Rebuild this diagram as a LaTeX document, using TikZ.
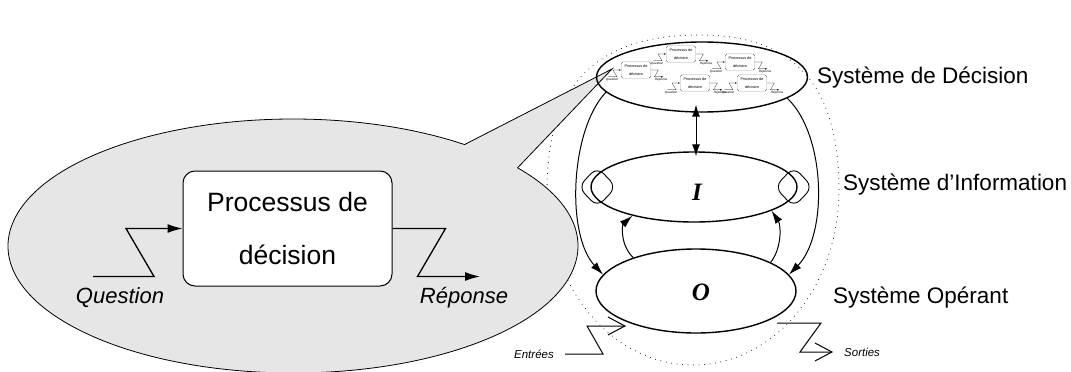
\documentclass[tikz,border=0pt]{standalone}
\usepackage{fontspec}
\setmainfont{Liberation Sans}
\newfontfamily\letterfont{Liberation Serif}
\usepackage{xcolor}
\usepackage{tikz}
\usetikzlibrary{arrows.meta, positioning, shapes.geometric}
\definecolor{calloutgray}{RGB}{230,230,230}

\tikzset{
  procbox/.style={draw, fill=white, rounded corners=#1*12pt, minimum width=209pt, minimum height=115pt,
    inner sep=0pt, align=center, font=\fontsize{26.5}{53}\selectfont},
  zig/.style={line width=#1*1.3pt, -{Latex[length=15pt, width=9pt, scale=#1]}},
  qlabel/.style={font=\fontsize{22}{26}\selectfont\itshape, inner sep=0pt},
  sysell/.style={draw, ellipse, line width=1.4pt, inner sep=0pt},
  sysletter/.style={font=\letterfont\bfseries\itshape\fontsize{25}{30}\selectfont, inner sep=0pt},
  syslabel/.style={font=\fontsize{22.5}{27}\selectfont, inner sep=0pt},
  sysarc/.style={line width=1pt, -{Latex[length=13pt, width=8pt]}},
  loopline/.style={line width=0.9pt, rounded corners=9pt},
  iolabel/.style={font=\fontsize{11.5}{14}\selectfont\itshape, inner xsep=11pt, inner ysep=0pt},
  iozig/.style={line width=1pt, -{Straight Barb[length=17pt, width=18pt]}},
  dotline/.style={line width=1pt, line cap=round, dash pattern=on 0pt off 5.5pt},
  callout/.style={draw, fill=calloutgray, line width=0.8pt}
}

% one decision process: box, question in, answer out
\newcommand{\decunit}[4]{%
  \begin{scope}[shift={(#2,#3)}, scale=#4, transform shape, line width=#4*1pt]
    \node[procbox=#4] (#1) at (0,0) {Processus de\\décision};
    \coordinate (#1in) at (-194.5,-48);
    \coordinate (#1out) at (192.5,-48);
    \draw[zig=#4] (#1in) -- ++(61,0) -- ++(-28,48) -- (#1.west);
    \draw[zig=#4] (#1.east) -- ++(53,0) -- ++(-28,-48) -- (#1out);
    \node[qlabel] (#1q) at (-167.5,-69.5) {Question};
    \node[qlabel] (#1r) at (176.5,-69.5) {Réponse};
  \end{scope}}

\begin{document}
\begin{tikzpicture}[x=1pt, y=1pt]
  \useasboundingbox (0,0) rectangle (1071,-372);

  % outer boundary of the organisation
  \draw[dotline] (547,-190) .. controls (547,-81) and (600,-35) .. (700,-35)
    .. controls (790,-35) and (839,-81) .. (839,-190)
    .. controls (839,-287) and (774,-365) .. (693,-365)
    .. controls (612,-365) and (547,-287) .. (547,-190);

  % zoom callout
  \coordinate (cc) at (293,-246);
  \path (cc) ++(53:285 and 127) coordinate (wa);
  \path (cc) ++(38:285 and 127) coordinate (wb);
  \coordinate (wtip) at (612,-69);
  \draw[callout] (wb) arc[start angle=38, end angle=-307, x radius=285, y radius=127]
    -- (wtip) -- cycle;

  \decunit{proc}{287.5}{-228.5}{1}

  % the three systems
  \node[sysell, minimum width=211pt, minimum height=70pt] (dec) at (702,-77) {};
  \node[sysell, minimum width=206pt, minimum height=70pt] (inf) at (694,-187) {};
  \node[sysell, minimum width=200pt, minimum height=84pt] (ope) at (696,-291) {};
  \node[sysletter] (ilbl) at (697,-192) {I};
  \node[sysletter] (olbl) at (701,-292) {O};

  \decunit{pa}{636}{-70}{0.142}
  \decunit{pb}{681}{-54}{0.142}
  \decunit{pc}{740}{-62}{0.142}
  \decunit{pd}{695}{-83}{0.142}
  \decunit{pe}{752}{-83}{0.142}

  \draw[line width=1pt, {Latex[length=12pt, width=8pt]}-{Latex[length=12pt, width=8pt]}]
    ([xshift=-6pt, yshift=8pt]dec.south) -- ([xshift=2pt, yshift=-5pt]inf.north);
  \draw[sysarc] (dec.189) .. controls (570,-130) and (566,-235) .. (ope.170);
  \draw[sysarc] (dec.346) .. controls (826,-135) and (828,-235) .. (ope.10);
  \draw[sysarc] (ope.152) .. controls (620,-245) and (622,-225) .. (inf.205);
  \draw[sysarc] (ope.21) .. controls (782,-248) and (781,-225) .. (inf.343);

  % memory loops of the information system
  \draw[loopline] ([xshift=-2.5pt, yshift=10pt]inf.west) -- ([xshift=7pt, yshift=20pt]inf.west)
    -- ([xshift=26pt]inf.west) -- ([xshift=7pt, yshift=-20pt]inf.west)
    -- ([xshift=-12pt]inf.west) -- ([xshift=-2.5pt, yshift=10pt]inf.west);
  \draw[loopline] ([xshift=-13.5pt, yshift=10pt]inf.east) -- ([xshift=-4pt, yshift=20pt]inf.east)
    -- ([xshift=15pt]inf.east) -- ([xshift=-4pt, yshift=-20pt]inf.east)
    -- ([xshift=-23pt]inf.east) -- ([xshift=-13.5pt, yshift=10pt]inf.east);

  \node[syslabel, anchor=base west] (declbl) at (817,-83) {Système de Décision};
  \node[syslabel, anchor=base west] (inflbl) at (843,-190) {Système d’Information};
  \node[syslabel, anchor=base west] (opelbl) at (833,-303) {Système Opérant};

  % inputs and outputs
  \node[iolabel, anchor=east] (entlbl) at (565,-354) {Entrées};
  \coordinate (enttip) at (626,-326);
  \draw[iozig] (entlbl.east) -- ++(38,0) -- ++(-16,28) -- (enttip);
  \coordinate (sortstart) at (777,-323);
  \node[iolabel, anchor=west] (sortlbl) at (833,-352) {Sorties};
  \draw[iozig] (sortstart) -- ++(44,0) -- ++(-21,-29) -- (sortlbl.west);
\end{tikzpicture}
\end{document}
